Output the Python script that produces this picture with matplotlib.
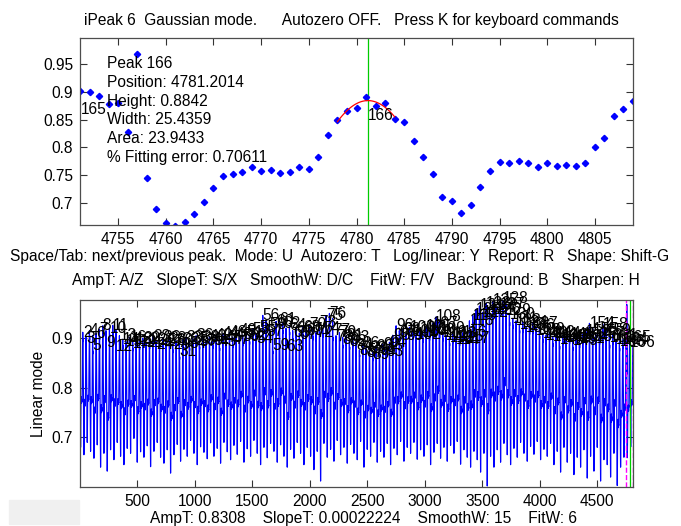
import numpy as np
import matplotlib
matplotlib.use('Agg')
import matplotlib.pyplot as plt
from matplotlib.ticker import FuncFormatter
from matplotlib.patches import Rectangle

plt.rcParams['font.family'] = ['Liberation Sans', 'DejaVu Sans']
plt.rcParams['font.size'] = 11.2

# zoomed window (upper panel), one point per sample
win_x = list(range(4751, 4810))
win_y = [0.902, 0.899, 0.893, 0.878, 0.880, 0.827, 0.968, 0.745, 0.689, 0.663,
         0.659, 0.666, 0.680, 0.701, 0.727, 0.749, 0.752, 0.756, 0.765, 0.757,
         0.759, 0.753, 0.755, 0.764, 0.761, 0.782, 0.822, 0.850, 0.865, 0.870,
         0.891, 0.875, 0.880, 0.851, 0.845, 0.812, 0.782, 0.752, 0.711, 0.704,
         0.681, 0.696, 0.729, 0.757, 0.774, 0.772, 0.776, 0.772, 0.764, 0.772,
         0.766, 0.769, 0.767, 0.772, 0.801, 0.816, 0.856, 0.869, 0.883]

# fit result of peak 166
fit_pos = 4781.2014
fit_height = 0.8842
fit_width = 25.4359
fit_range = (4778, 4784)

# one cycle of the signal (peak to peak), taken from the window
cycle = [0.891, 0.875, 0.880, 0.851, 0.845, 0.812, 0.782, 0.752, 0.711, 0.704,
         0.681, 0.696, 0.729, 0.757, 0.774, 0.772, 0.776, 0.772, 0.764, 0.772,
         0.766, 0.769, 0.767, 0.772, 0.801, 0.816, 0.856, 0.869, 0.883]

# rough peak tops / valley bottoms of each cycle of the full signal
peak_tops = [
    0.905, 0.912, 0.900, 0.915, 0.886, 0.910, 0.918, 0.925, 0.892, 0.920,
    0.926, 0.884, 0.905, 0.898, 0.893, 0.902, 0.889, 0.897, 0.894, 0.900,
    0.891, 0.898, 0.903, 0.887, 0.896, 0.901, 0.893, 0.899, 0.888, 0.895,
    0.874, 0.897, 0.902, 0.890, 0.899, 0.905, 0.894, 0.901, 0.896, 0.903,
    0.898, 0.906, 0.893, 0.909, 0.902, 0.912, 0.897, 0.908, 0.915, 0.904,
    0.911, 0.906, 0.918, 0.900, 0.921, 0.946, 0.913, 0.928, 0.885, 0.934,
    0.938, 0.930, 0.884, 0.925, 0.912, 0.919, 0.908, 0.922, 0.915, 0.927,
    0.918, 0.912, 0.931, 0.920, 0.945, 0.950, 0.915, 0.903, 0.911, 0.897,
    0.905, 0.893, 0.901, 0.885, 0.876, 0.889, 0.872, 0.880, 0.868, 0.883,
    0.878, 0.887, 0.874, 0.892, 0.906, 0.925, 0.912, 0.918, 0.905, 0.922,
    0.914, 0.908, 0.919, 0.911, 0.923, 0.916, 0.930, 0.943, 0.920, 0.912,
    0.906, 0.901, 0.909, 0.898, 0.904, 0.911, 0.900, 0.935, 0.946, 0.958,
    0.965, 0.952, 0.970, 0.961, 0.975, 0.958, 0.968, 0.980, 0.955, 0.948,
    0.940, 0.935, 0.928, 0.932, 0.921, 0.926, 0.930, 0.915, 0.918, 0.910,
    0.906, 0.912, 0.903, 0.909, 0.898, 0.905, 0.901, 0.907, 0.896, 0.904,
    0.900, 0.908, 0.913, 0.930, 0.918, 0.904, 0.910, 0.928, 0.915, 0.901,
    0.906, 0.898, 0.893, 0.897]
valley_bottoms = [
    0.680, 0.665, 0.690, 0.672, 0.658, 0.685, 0.640, 0.668, 0.632, 0.675,
    0.655, 0.690, 0.662, 0.645, 0.678, 0.668, 0.698, 0.650, 0.671, 0.660,
    0.683, 0.641, 0.672, 0.690, 0.660, 0.648, 0.675, 0.628, 0.665, 0.686,
    0.652, 0.676, 0.662, 0.694, 0.668, 0.645, 0.681, 0.670, 0.657, 0.689,
    0.662, 0.678, 0.648, 0.690, 0.671, 0.655, 0.684, 0.666, 0.692, 0.650,
    0.677, 0.662, 0.694, 0.668, 0.645, 0.680, 0.659, 0.688, 0.672, 0.650,
    0.685, 0.662, 0.640, 0.676, 0.658, 0.690, 0.668, 0.645, 0.680, 0.662,
    0.635, 0.672, 0.612, 0.688, 0.660, 0.676, 0.652, 0.694, 0.665, 0.680,
    0.648, 0.686, 0.668, 0.655, 0.692, 0.640, 0.676, 0.662, 0.690, 0.650,
    0.672, 0.660, 0.688, 0.645, 0.678, 0.665, 0.692, 0.652, 0.680, 0.668,
    0.690, 0.656, 0.675, 0.662, 0.685, 0.645, 0.670, 0.688, 0.658, 0.680,
    0.652, 0.684, 0.668, 0.692, 0.646, 0.675, 0.660, 0.640, 0.672, 0.655,
    0.630, 0.668, 0.602, 0.662, 0.640, 0.675, 0.650, 0.688, 0.665, 0.645,
    0.678, 0.660, 0.690, 0.668, 0.652, 0.682, 0.666, 0.692, 0.655, 0.676,
    0.662, 0.688, 0.645, 0.672, 0.630, 0.680, 0.650, 0.668, 0.625, 0.660,
    0.640, 0.675, 0.618, 0.662, 0.632, 0.680, 0.612, 0.655, 0.645, 0.620,
    0.668, 0.603, 0.640, 0.660]

title_txt = 'iPeak 6  Gaussian mode.      Autozero OFF.   Press K for keyboard commands'
keys1 = ('Space/Tab: next/previous peak.  Mode: U  Autozero: T   Log/linear: Y  '
         'Report: R   Shape: Shift-G')
keys2 = 'AmpT: A/Z   SlopeT: S/X   SmoothW: D/C    FitW: F/V   Background: B   Sharpen: H'
params = 'AmpT: 0.8308    SlopeT: 0.00022224    SmoothW: 15    FitW: 6'
info = ['Peak 166', 'Position: 4781.2014', 'Height: 0.8842', 'Width: 25.4359',
        'Area: 23.9433', '% Fitting error: 0.70611']

# build full signal: cycles scaled between their valley and top, then the window
c = np.array(cycle)
cn = (c - c.min()) / (c.max() - c.min())
parts = [v + (p - v) * cn for p, v in zip(peak_tops, valley_bottoms)]
pre = np.concatenate(parts)[-(win_x[0] - 1):]
sig = np.concatenate([pre, win_y])
sig_x = np.arange(1, len(sig) + 1)
peak_x = [29 * j - 5 for j in range(1, len(peak_tops))] + [4751, 4781]
peak_y = list(peak_tops[1:]) + [0.902, 0.891]
peak_n = list(range(2, len(peak_tops) + 1)) + [165, 166]

W, H = 681, 526
fig = plt.figure(figsize=(W / 100, H / 100), dpi=100)
ax1 = fig.add_axes([80 / W, 1 - 225 / H, 553 / W, 187 / H])
ax2 = fig.add_axes([80 / W, 1 - 487 / H, 553 / W, 187 / H])

fmt = FuncFormatter(lambda v, p: '%g' % round(v, 4))
for ax in (ax1, ax2):
    ax.tick_params(direction='in', top=True, right=True, length=5, pad=5,
                   color='0.2', labelsize=11.2)
    for s in ax.spines.values():
        s.set_color('0.3')
        s.set_linewidth(0.9)
    ax.yaxis.set_major_formatter(fmt)

# upper panel
fx = np.linspace(fit_range[0], fit_range[1], 60)
fy = fit_height * np.exp(-((fx - fit_pos) / (0.6006 * fit_width)) ** 2)
ax1.axvline(fit_pos, color='#00cc00', lw=0.9)
ax1.plot(win_x, win_y, 'D', color='#0000ff', ms=3.2, mec='#0000ff')
ax1.plot(fx, fy, color='red', lw=0.9)
ax1.set_xlim(4751, 4809)
ax1.set_ylim(0.66, 0.997)
ax1.set_xticks(range(4755, 4806, 5))
ax1.set_yticks([0.7, 0.75, 0.8, 0.85, 0.9, 0.95])
ax1.text(4751.1, 0.868, '165', va='center', ha='left')
ax1.text(fit_pos, 0.857, '166', va='center', ha='left')
ax1.text(0.049, 0.903, '\n'.join(info), transform=ax1.transAxes, va='top',
         ha='left', linespacing=1.31)

# lower panel
ax2.plot(sig_x, sig, color='#0000ff', lw=0.85)
ax2.axvline(win_x[0], color='#ff00ff', ls='--', lw=1.0)
ax2.axvline(win_x[-1], color='#ff00ff', ls='--', lw=1.0)
ax2.axvline(fit_pos, color='#00cc00', lw=0.9)
for x, y, n in zip(peak_x, peak_y, peak_n):
    ax2.text(x, y, str(n), va='center', ha='left', clip_on=False)
ax2.set_xlim(0, 4811)
ax2.set_ylim(0.6, 0.977)
ax2.set_xticks(range(500, 4501, 500))
ax2.set_yticks([0.7, 0.8, 0.9])
ax2.set_ylabel('Linear mode', labelpad=4)

fig.text(351 / W, 1 - 20 / H, title_txt, ha='center', va='center')
fig.text(340 / W, 1 - 257 / H, keys1, ha='center', va='center')
fig.text(356 / W, 1 - 280 / H, keys2, ha='center', va='center')
fig.text(363 / W, 1 - 518 / H, params, ha='center', va='center')
fig.patches.append(Rectangle((9 / W, 2 / H), 70 / W, 24 / H, color='#f0f0f0',
                             transform=fig.transFigure, figure=fig))

fig.savefig('out.png', dpi=100)
